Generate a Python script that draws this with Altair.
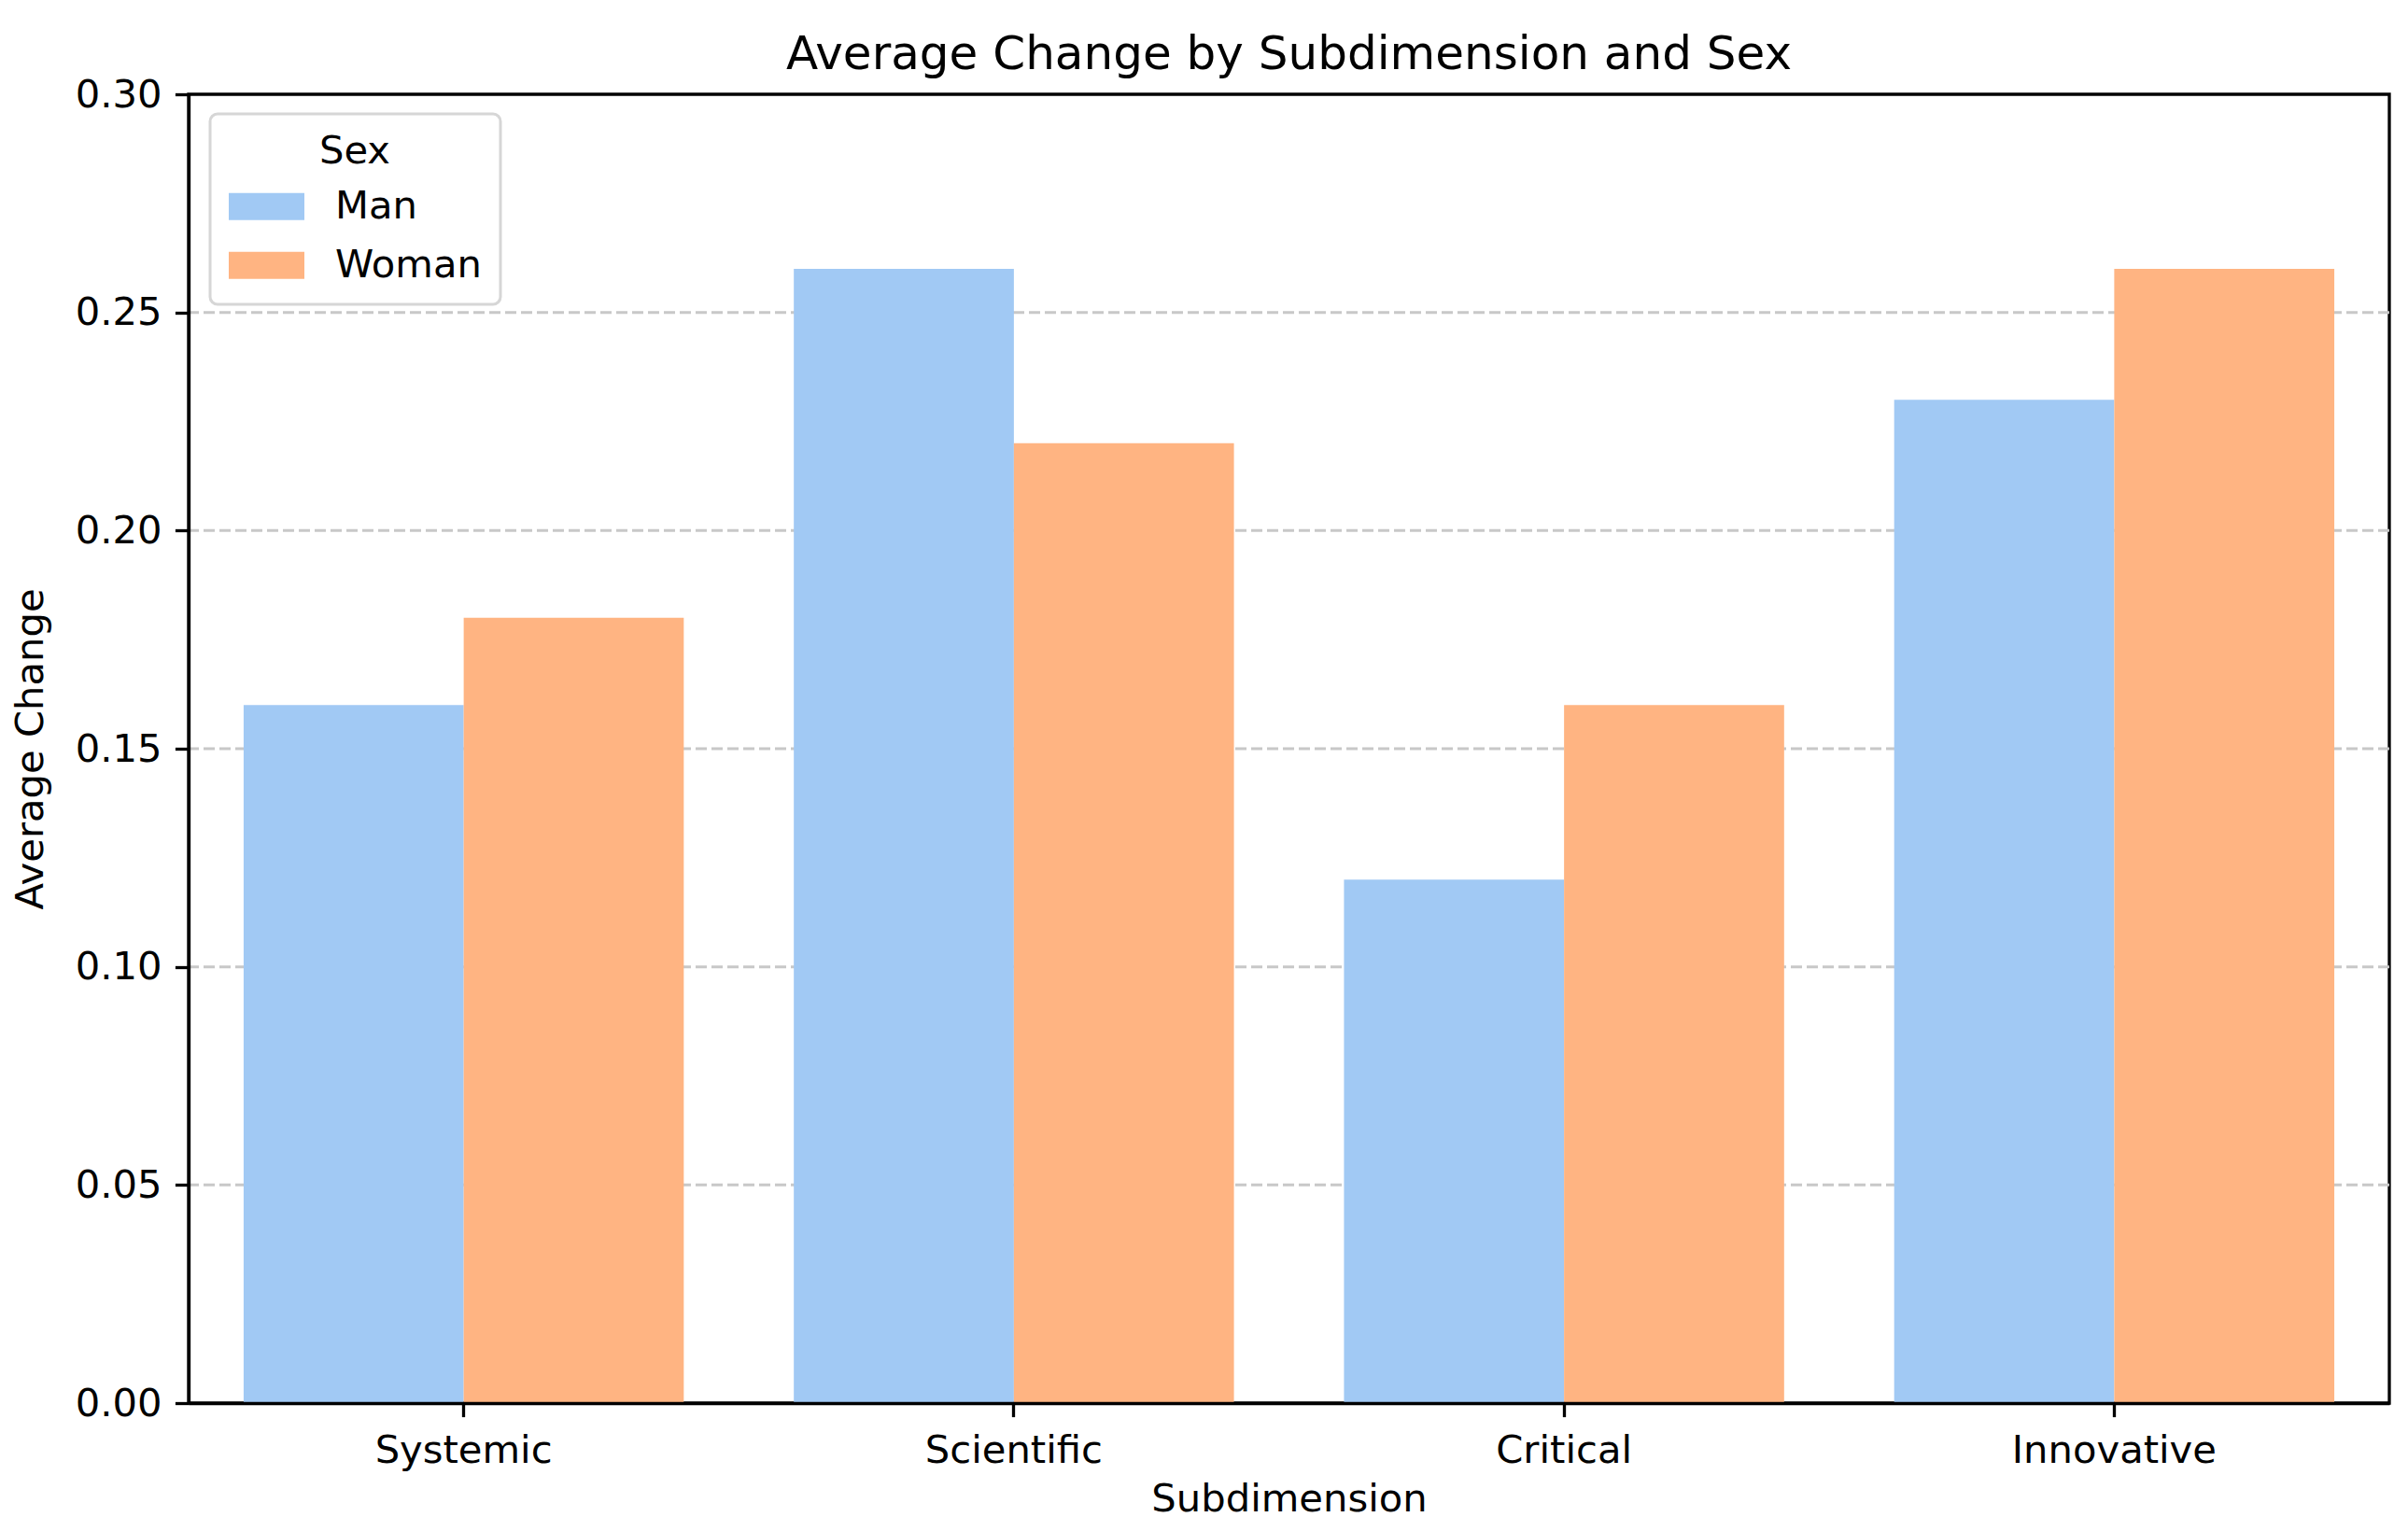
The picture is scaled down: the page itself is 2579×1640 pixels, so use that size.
import altair as alt
import pandas as pd

# ---- data ----
SUBDIMENSIONS = ["Systemic", "Scientific", "Critical", "Innovative"]
SEXES = ["Man", "Woman"]
MAN_VALUES = [0.16, 0.26, 0.12, 0.23]
WOMAN_VALUES = [0.18, 0.22, 0.16, 0.26]
Y_TICKS = [0.00, 0.05, 0.10, 0.15, 0.20, 0.25, 0.30]
COLORS = ["#a1c9f4", "#ffb482"]

rows = []
for i, s in enumerate(SUBDIMENSIONS):
    rows.append({"Subdimension": s, "Sex": "Man", "value": MAN_VALUES[i]})
    rows.append({"Subdimension": s, "Sex": "Woman", "value": WOMAN_VALUES[i]})
df = pd.DataFrame(rows)
# dashed grid lines at the inner ticks (outer ones sit under the spines)
grid_df = pd.DataFrame({"value": Y_TICKS[1:-1]})

FONT = "DejaVu Sans"
FS = 41.7

y_axis = alt.Axis(
    title="Average Change", values=Y_TICKS, format=".2f", grid=False,
    domainColor="black", domainWidth=3.3, tickColor="black", tickWidth=3.3,
    tickSize=14.6, labelFontSize=FS, labelPadding=14.4, labelColor="black",
    labelFont=FONT, titleFont=FONT, titleFontSize=FS, titleFontWeight="normal",
    titleColor="black", titlePadding=26, zindex=1,
)
y_scale = alt.Scale(domain=[0, 0.30], nice=False)

grid = alt.Chart(grid_df).mark_rule(
    color="#c8c8c8", strokeDash=[12, 5], strokeWidth=3
).encode(
    y=alt.Y("value:Q", scale=y_scale, axis=y_axis)
)

bars = alt.Chart(df).mark_bar().encode(
    x=alt.X(
        "Subdimension:N", sort=SUBDIMENSIONS,
        scale=alt.Scale(paddingInner=0.2, paddingOuter=0.1),
        axis=alt.Axis(
            title="Subdimension", labelAngle=0, domainColor="black",
            domainWidth=3.3, tickColor="black", tickWidth=3.3, tickSize=14.6,
            labelFontSize=FS, labelPadding=16, labelColor="black",
            labelLimit=0, labelFont=FONT, titleFont=FONT, titleFontSize=FS,
            titleFontWeight="normal", titleColor="black", titlePadding=10,
            zindex=1,
        ),
    ),
    xOffset=alt.XOffset("Sex:N", sort=SEXES,
                        scale=alt.Scale(paddingInner=0, paddingOuter=0)),
    y=alt.Y("value:Q", scale=y_scale, axis=y_axis),
    color=alt.Color(
        "Sex:N", sort=SEXES,
        scale=alt.Scale(domain=SEXES, range=COLORS),
        legend=alt.Legend(
            title="Sex", orient="none", legendX=23, legendY=21,
            symbolType="M-1,-0.358H1V0.358H-1Z", symbolSize=6561,
            symbolStrokeWidth=0, symbolOpacity=1,
            labelFontSize=FS, labelFont=FONT, labelColor="black",
            labelOffset=33, labelBaseline="middle",
            titleFontSize=FS, titleFont=FONT, titleFontWeight="normal",
            titleColor="black", titleAnchor="middle", titlePadding=-3,
            padding=20, rowPadding=0, cornerRadius=8,
            strokeColor="#d6d6d6", fillColor="rgba(255,255,255,0.8)",
        ),
    ),
)

chart = alt.layer(grid, bars).properties(
    width=2357,
    height=1402,
    title=alt.TitleParams(
        "Average Change by Subdimension and Sex", fontSize=50, font=FONT,
        fontWeight="normal", color="black", anchor="middle", offset=-3,
    ),
    autosize=alt.AutoSizeParams(type="none"),
    padding={"left": 194, "top": 93, "right": 10, "bottom": 120},
).configure_view(
    stroke="black", strokeWidth=3.3
).configure_legend(
    strokeWidth=3
)

chart.save("out.html", embed_options={"renderer": "svg", "actions": False})
